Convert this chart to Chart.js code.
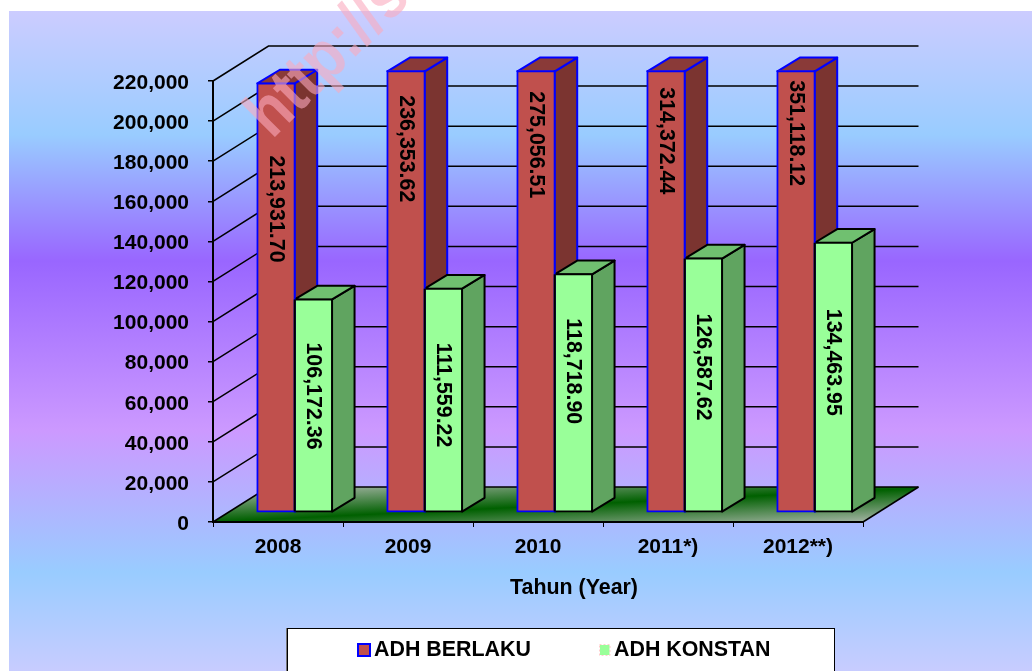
<!DOCTYPE html>
<html>
<head>
<meta charset="utf-8" />
<title>ADH Berlaku dan ADH Konstan</title>
<script src="https://cdn.jsdelivr.net/npm/chart.js@4/dist/chart.umd.min.js"></script>
<style>
	html, body { margin: 0; padding: 0; background: #fff; }
	canvas { display: block; }
</style>
</head>
<body>
<canvas id="grafik" width="1032" height="671"></canvas>
<script>
	const categories = ['2008', '2009', '2010', '2011*)', '2012**)'];
	const adhBerlaku = [213931.70, 236353.62, 275056.51, 314372.44, 351118.12];
	const adhKonstan = [106172.36, 111559.22, 118718.90, 126587.62, 134463.95];

	// distance from the visible top of a bar down to the start of its value label
	const labelDropBerlaku = [72, 24, 20, 16, 9];
	const labelDropKonstan = [43, 54, 44, 55, 66];

	const FAMILY = '"Liberation Sans", Arial, sans-serif';
	const WALL = { dx: 55.5, dy: -35 };   // depth of the floor and back wall
	const SHIFT = { dx: 16.7, dy: -9.7 }; // bars stand inside the floor
	const BAR = { dx: 22.5, dy: -13.7 };  // depth of one bar

	function format2(v) {
		return v.toLocaleString('en-US', { minimumFractionDigits: 2, maximumFractionDigits: 2 });
	}

	function drawBackground(chart) {
		const ctx = chart.ctx;
		const g = ctx.createLinearGradient(0, 11, 0, 680);
		g.addColorStop(0, '#ccccff');
		g.addColorStop(0.185, '#99ccff');
		g.addColorStop(0.374, '#9966ff');
		g.addColorStop(0.627, '#cc99ff');
		g.addColorStop(0.839, '#99ccff');
		g.addColorStop(1, '#ccccff');
		ctx.fillStyle = g;
		ctx.fillRect(9, 11, chart.width - 9, chart.height - 11);
	}

	function drawWalls(chart) {
		const ctx = chart.ctx;
		const a = chart.chartArea;
		const y = chart.scales.y;

		const floor = ctx.createLinearGradient(564.5, 473.7, 567.5, 536.3);
		floor.addColorStop(0, '#a3b3a3');
		floor.addColorStop(0.5, '#006000');
		floor.addColorStop(1, '#a3b3a3');
		ctx.fillStyle = floor;
		ctx.beginPath();
		ctx.moveTo(a.left, a.bottom);
		ctx.lineTo(a.right, a.bottom);
		ctx.lineTo(a.right + WALL.dx, a.bottom + WALL.dy);
		ctx.lineTo(a.left + WALL.dx, a.bottom + WALL.dy);
		ctx.closePath();
		ctx.fill();

		ctx.strokeStyle = '#000';
		ctx.lineWidth = 1.5;
		y.ticks.forEach(t => {
			const py = y.getPixelForValue(t.value);
			ctx.beginPath();
			ctx.moveTo(a.left, py);
			ctx.lineTo(a.left + WALL.dx, py + WALL.dy);
			ctx.lineTo(a.right + WALL.dx, py + WALL.dy);
			ctx.stroke();
		});
		ctx.beginPath();
		ctx.moveTo(a.right, a.bottom);
		ctx.lineTo(a.right + WALL.dx, a.bottom + WALL.dy);
		ctx.stroke();
	}

	function drawLegendBox(chart) {
		const ctx = chart.ctx;
		ctx.fillStyle = '#fff';
		ctx.fillRect(287, 628, 548, 50);
		ctx.strokeStyle = '#777';
		ctx.lineWidth = 2;
		ctx.beginPath();
		ctx.moveTo(287, 680);
		ctx.lineTo(287, 628);
		ctx.stroke();
		ctx.strokeStyle = '#000';
		ctx.lineWidth = 1;
		ctx.strokeRect(287.5, 628.5, 547, 60);

		const sets = chart.data.datasets;
		ctx.fillStyle = sets[0].backgroundColor;
		ctx.fillRect(358, 644, 12, 12);
		ctx.strokeStyle = sets[0].borderColor;
		ctx.lineWidth = 2;
		ctx.strokeRect(358, 644, 12, 12);
		ctx.fillStyle = sets[1].backgroundColor;
		ctx.fillRect(600, 645, 9.5, 10);
		ctx.strokeStyle = 'rgba(255, 170, 170, 0.6)';
		ctx.lineWidth = 1;
		ctx.setLineDash([2, 2]);
		ctx.strokeRect(599.5, 644.5, 10.5, 11);
		ctx.setLineDash([]);

		ctx.fillStyle = '#000';
		ctx.font = 'bold 21.4px ' + FAMILY;
		ctx.textAlign = 'left';
		ctx.textBaseline = 'middle';
		ctx.fillText(sets[0].label, 374, 650);
		ctx.fillText(sets[1].label, 614, 650);
	}

	function drawBarSides(chart, index) {
		const ctx = chart.ctx;
		const ds = chart.data.datasets[index];
		const a = chart.chartArea;
		chart.getDatasetMeta(index).data.forEach(bar => {
			const l = bar.x - bar.width / 2;
			const r = bar.x + bar.width / 2;
			const top = Math.max(bar.y, a.top);
			ctx.lineWidth = 2;
			ctx.strokeStyle = ds.borderColor;
			ctx.lineJoin = 'round';

			ctx.fillStyle = ds.sideColor;
			ctx.beginPath();
			ctx.moveTo(r, top);
			ctx.lineTo(r + BAR.dx, top + BAR.dy);
			ctx.lineTo(r + BAR.dx, bar.base + BAR.dy);
			ctx.lineTo(r, bar.base);
			ctx.closePath();
			ctx.fill();
			ctx.stroke();

			ctx.fillStyle = ds.topColor;
			ctx.beginPath();
			ctx.moveTo(l, top);
			ctx.lineTo(r, top);
			ctx.lineTo(r + BAR.dx, top + BAR.dy);
			ctx.lineTo(l + BAR.dx, top + BAR.dy);
			ctx.closePath();
			ctx.fill();
			ctx.stroke();
		});
	}

	// edges the library cannot give: clipped bar tops, and the black seam where
	// a green bar meets the red one drawn after it
	function drawFrontEdges(chart) {
		const ctx = chart.ctx;
		const a = chart.chartArea;
		const red = chart.data.datasets[0];
		const green = chart.data.datasets[1];
		ctx.lineWidth = 2;
		ctx.strokeStyle = red.borderColor;
		chart.getDatasetMeta(0).data.forEach(bar => {
			if (bar.y >= a.top) return;
			ctx.beginPath();
			ctx.moveTo(bar.x - bar.width / 2, a.top);
			ctx.lineTo(bar.x + bar.width / 2, a.top);
			ctx.stroke();
		});
		ctx.strokeStyle = green.borderColor;
		chart.getDatasetMeta(1).data.forEach(bar => {
			const l = bar.x - bar.width / 2;
			ctx.beginPath();
			ctx.moveTo(l, bar.y);
			ctx.lineTo(l, bar.base);
			ctx.stroke();
		});
	}

	function drawValueLabels(chart) {
		const ctx = chart.ctx;
		const a = chart.chartArea;
		const drops = [labelDropBerlaku, labelDropKonstan];
		chart.data.datasets.forEach((ds, i) => {
			chart.getDatasetMeta(i).data.forEach((bar, j) => {
				const top = Math.max(bar.y, a.top) + SHIFT.dy;
				ctx.save();
				ctx.translate(bar.x + SHIFT.dx, top + drops[i][j]);
				ctx.rotate(Math.PI / 2);
				ctx.fillStyle = '#000';
				ctx.font = 'bold 21.4px ' + FAMILY;
				ctx.textAlign = 'left';
				ctx.textBaseline = 'middle';
				ctx.fillText(format2(ds.data[j]), 0, 0);
				ctx.restore();
			});
		});
	}

	function drawAxisTitle(chart) {
		const ctx = chart.ctx;
		ctx.fillStyle = '#000';
		ctx.font = 'bold 21.4px ' + FAMILY;
		ctx.textAlign = 'center';
		ctx.textBaseline = 'middle';
		ctx.fillText('Tahun (Year)', 574, 588);
	}

	function drawWatermark(chart) {
		const ctx = chart.ctx;
		ctx.save();
		ctx.translate(272, 140);
		ctx.rotate(-45 * Math.PI / 180);
		ctx.scale(0.875, 1);
		ctx.font = 'bold 68px ' + FAMILY;
		ctx.fillStyle = 'rgba(250, 170, 190, 0.6)';
		ctx.textAlign = 'left';
		ctx.textBaseline = 'alphabetic';
		ctx.fillText('http://s', 0, 0);
		ctx.restore();
	}

	const bar3d = {
		id: 'bar3d',
		afterUpdate(chart) {
			// y tick labels sit 2px lower in the reference
			chart.scales.y.getLabelItems().forEach(item => { item.options.translation[1] += 2; });
		},
		beforeDraw(chart) {
			drawBackground(chart);
			drawWalls(chart);
			drawLegendBox(chart);
		},
		beforeDatasetsDraw(chart) {
			chart.ctx.save();
			chart.ctx.translate(SHIFT.dx, SHIFT.dy);
			drawBarSides(chart, 0);
			drawBarSides(chart, 1);
		},
		afterDatasetsDraw(chart) {
			drawFrontEdges(chart);
			chart.ctx.restore();
		},
		afterDraw(chart) {
			drawValueLabels(chart);
			drawAxisTitle(chart);
			drawWatermark(chart);
		}
	};

	new Chart(document.getElementById('grafik'), {
		type: 'bar',
		data: {
			labels: categories,
			datasets: [
				{
					label: 'ADH BERLAKU',
					data: adhBerlaku,
					backgroundColor: '#c0504d',
					borderColor: '#0000ff',
					sideColor: '#7b3430',
					topColor: '#8a3a38',
					borderWidth: 2,
					borderSkipped: false,
					inflateAmount: 1,
					clip: { left: 3, right: 3, top: 1, bottom: 3 }
				},
				{
					label: 'ADH KONSTAN',
					data: adhKonstan,
					backgroundColor: '#99ff99',
					borderColor: '#000000',
					sideColor: '#60a460',
					topColor: '#70c070',
					borderWidth: 2,
					borderSkipped: false,
					inflateAmount: 1,
					clip: { left: 3, right: 3, top: 1, bottom: 3 }
				}
			]
		},
		options: {
			responsive: false,
			animation: false,
			categoryPercentage: 0.5746,
			barPercentage: 1,
			layout: {
				autoPadding: false,
				padding: { left: 0, top: 81, right: 169, bottom: 0 }
			},
			plugins: {
				legend: { display: false },
				tooltip: { enabled: false }
			},
			scales: {
				x: {
					afterFit(s) { s.height = 149; },
					grid: { drawOnChartArea: false, color: '#000', tickLength: 5, lineWidth: 1 },
					border: { color: '#000', width: 2 },
					ticks: {
						color: '#000',
						padding: 8,
						maxRotation: 0,
						font: { family: FAMILY, size: 21, weight: 'bold' }
					}
				},
				y: {
					min: 0,
					max: 220000,
					afterFit(s) { s.width = 213; },
					grid: { drawOnChartArea: false, color: '#000', tickLength: 5, lineWidth: 1.5 },
					border: { color: '#000', width: 2 },
					ticks: {
						stepSize: 20000,
						color: '#000',
						padding: 19,
						font: { family: FAMILY, size: 21, weight: 'bold' },
						callback: v => v.toLocaleString('en-US')
					}
				}
			}
		},
		plugins: [bar3d]
	});
</script>
</body>
</html>
